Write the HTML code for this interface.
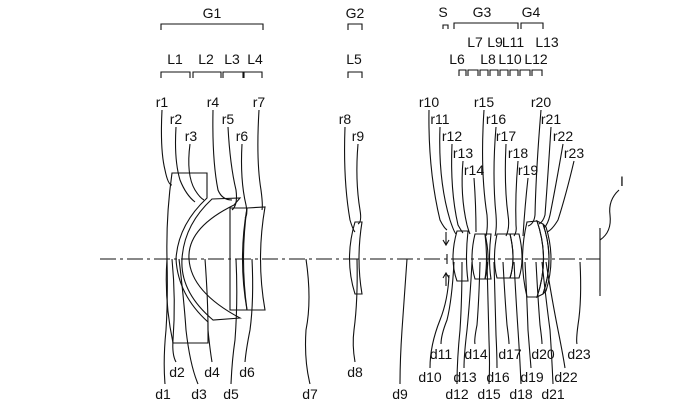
<!DOCTYPE html>
<html><head><style>
html,body{margin:0;padding:0;background:#fff;}
svg{display:block}
text{font-family:"Liberation Sans Narrow","Liberation Sans",sans-serif;font-size:14px;fill:#111;text-anchor:middle}
</style></head><body>
<svg width="700" height="404" viewBox="0 0 700 404" xmlns="http://www.w3.org/2000/svg">
<g fill="none" stroke="#111" stroke-width="1.1">
<!-- axis -->
<line x1="100" y1="259" x2="600" y2="259" stroke-dasharray="16,4,3,4"/>
<!-- image plane -->
<line x1="600" y1="228" x2="600" y2="296"/>
<path d="M600,240 Q612,232 610,215 Q608,200 619,190"/>
<!-- brackets top -->
<path d="M161,30 V24 H263 V30"/>
<path d="M348,30 V24 H362 V30"/>
<path d="M161,78 V72 H190 V78 M193,78 V72 H221 V78 M223,78 V72 H243 V78 M244,78 V72 H262 V78"/>
<path d="M348,78 V72 H362 V78"/>
<path d="M443,29 V25 H448 V29 M454,29 V23 H518 V29 M521,29 V23 H543 V29"/>
<path d="M459,76 V70 H466 V76 M468,76 V70 H478 V76 M480,76 V70 H488 V76 M490,76 V70 H498 V76 M500,76 V70 H508 V76 M510,76 V70 H518 V76 M520,76 V70 H530 V76 M532,76 V70 H542 V76"/>
<!-- G1 lenses -->
<path d="M172,173 L207,173 L207,198 Q178,225 176,259 Q178,295 208,322 L208,343 L173,343 Q164,300 167,259 Q166,215 172,173 Z"/>
<path d="M212,199 L240,198 L234,205 Q187,228 189,259 Q191,292 240,318 L213,320 Q180,292 182,259 Q184,225 212,199 Z"/>
<path d="M230,208 L247,208 Q238,259 247,310 L230,310 Z"/>
<path d="M247,208 L265,207 Q256,259 265,310 L247,310 Q240,259 247,208 Z"/>
<!-- L5 -->
<path d="M355,222 L362,222 Q356,259 362,294 L355,294 Q344,259 355,222 Z"/>
<!-- G3 -->
<path d="M457,231 L468,231 Q465,259 468,281 L457,281 Q449,259 457,231 Z"/>
<path d="M475,234 L485,234 Q491,259 485,279 L475,279 Q469,259 475,234 Z"/>
<path d="M485,234 L491,234 Q488,259 491,279 L485,279 Q488,259 485,234 Z"/>
<path d="M497,234 L510,234 Q516,259 510,278 L497,278 Q492,259 497,234 Z"/>
<path d="M510,234 L519,234 Q525,259 519,278 L510,278 Q516,259 510,234 Z"/>
<!-- G4 -->
<path d="M527,222 L537,221 Q550,259 537,297 L527,297 Q518,259 527,222 Z"/>
<path d="M537,221 L543,224 Q555,259 543,294 L537,297 Q550,259 537,221 Z"/>
<path d="M543,224 L546,227 Q556,259 546,291 L543,294 Q555,259 543,224 Z"/>
<!-- stop arrows -->
<path d="M446,232 L446,244 M443,240 L446,245 L449,240"/>
<path d="M446,286 L446,274 M443,278 L446,273 L449,278"/>
<line x1="447" y1="254" x2="447" y2="264"/>
<!-- r leaders G1 -->
<path d="M162,110 Q160,150 165,170 Q168,185 172,185"/>
<path d="M176,127 Q174,160 180,180 Q186,195 195,202"/>
<path d="M190,144 Q186,175 195,190 Q200,198 204,200"/>
<path d="M213,110 Q212,160 218,190 Q222,200 232,200"/>
<path d="M228,127 Q230,165 236,190 Q238,205 232,210"/>
<path d="M242,144 Q240,180 246,205 Q248,215 245,218"/>
<path d="M259,110 Q256,160 261,190 Q263,205 262,210"/>
<path d="M345,127 Q343,180 350,220 Q353,230 355,232"/>
<path d="M358,144 Q355,180 360,210 Q362,222 358,224"/>
<!-- r leaders G3/G4 -->
<path d="M429,110 Q428,170 440,220 Q444,228 447,230"/>
<path d="M440,127 Q438,180 450,220 Q454,232 456,234"/>
<path d="M452,144 Q450,190 458,225 Q462,232 463,233"/>
<path d="M463,161 Q460,195 467,225 Q469,232 470,234"/>
<path d="M474,178 Q476,205 476,232"/>
<path d="M484,110 Q480,170 487,215 Q488,228 486,236"/>
<path d="M496,127 Q492,175 496,215 Q497,228 495,236"/>
<path d="M506,144 Q504,185 508,215 Q510,228 506,236"/>
<path d="M518,161 Q515,195 516,225 Q517,232 514,236"/>
<path d="M528,178 Q525,205 523,236"/>
<path d="M541,110 Q536,170 535,215 Q534,224 528,226"/>
<path d="M551,127 Q548,175 545,215 Q543,222 539,224"/>
<path d="M563,144 Q556,185 550,215 Q548,224 544,228"/>
<path d="M574,161 Q566,195 558,220 Q552,230 547,232"/>
<!-- d leaders G1 -->
<path d="M167,259 Q168,300 166,330 Q163,360 165,384"/>
<path d="M172,259 Q176,300 173,340 Q172,355 176,362"/>
<path d="M179,259 Q184,300 186,330 Q190,365 198,384"/>
<path d="M205,259 Q208,300 208,330 Q210,350 212,362"/>
<path d="M236,259 Q238,300 235,340 Q232,360 231,384"/>
<path d="M252,259 Q254,300 250,330 Q246,350 245,362"/>
<path d="M306,259 Q312,300 306,330 Q304,360 310,384"/>
<path d="M357,259 Q358,300 354,330 Q352,345 355,362"/>
<!-- d leaders G3/G4 -->
<path d="M407,259 Q404,300 402,330 Q400,360 400,384"/>
<path d="M449,275 Q448,300 440,320 Q430,345 430,368"/>
<path d="M454,262 Q452,300 447,320 Q441,335 441,344"/>
<path d="M462,262 Q462,300 460,330 Q457,360 457,384"/>
<path d="M472,262 Q470,300 467,330 Q464,355 464,368"/>
<path d="M480,262 Q479,300 477,325 Q474,340 475,344"/>
<path d="M487,262 Q488,300 489,340 Q490,365 489,384"/>
<path d="M494,262 Q495,300 496,335 Q497,355 497,368"/>
<path d="M503,262 Q505,300 507,325 Q509,340 509,344"/>
<path d="M514,262 Q516,300 518,330 Q520,360 521,384"/>
<path d="M525,262 Q527,300 528,330 Q530,355 531,368"/>
<path d="M536,262 Q538,300 540,325 Q542,340 542,344"/>
<path d="M542,262 Q546,300 550,330 Q552,360 553,384"/>
<path d="M546,262 Q552,300 558,330 Q563,355 565,368"/>
<path d="M580,262 Q582,300 578,325 Q576,340 577,344"/>
</g>
<!-- labels -->
<text x="212" y="18">G1</text><text x="355" y="18">G2</text>
<text x="443" y="17">S</text><text x="482" y="17">G3</text><text x="531" y="17">G4</text>
<text x="175" y="64">L1</text><text x="206" y="64">L2</text><text x="232" y="64">L3</text><text x="255" y="64">L4</text>
<text x="354" y="64">L5</text>
<text x="475" y="47">L7</text><text x="495" y="47">L9</text><text x="513" y="47">L11</text><text x="547" y="47">L13</text>
<text x="457" y="64">L6</text><text x="488" y="64">L8</text><text x="510" y="64">L10</text><text x="536" y="64">L12</text>
<text x="162" y="107">r1</text><text x="176" y="124">r2</text><text x="191" y="141">r3</text>
<text x="213" y="107">r4</text><text x="228" y="124">r5</text><text x="242" y="141">r6</text><text x="259" y="107">r7</text>
<text x="345" y="124">r8</text><text x="358" y="141">r9</text>
<text x="429" y="107">r10</text><text x="440" y="124">r11</text><text x="452" y="141">r12</text><text x="463" y="158">r13</text><text x="474" y="175">r14</text>
<text x="484" y="107">r15</text><text x="496" y="124">r16</text><text x="506" y="141">r17</text><text x="518" y="158">r18</text><text x="528" y="175">r19</text>
<text x="541" y="107">r20</text><text x="551" y="124">r21</text><text x="563" y="141">r22</text><text x="574" y="158">r23</text>
<text x="622" y="186">I</text>
<text x="163" y="399">d1</text><text x="177" y="377">d2</text><text x="199" y="399">d3</text><text x="212" y="377">d4</text>
<text x="231" y="399">d5</text><text x="247" y="377">d6</text><text x="310" y="399">d7</text><text x="355" y="377">d8</text>
<text x="400" y="399">d9</text><text x="430" y="382">d10</text><text x="441" y="359">d11</text><text x="457" y="399">d12</text>
<text x="465" y="382">d13</text><text x="476" y="359">d14</text><text x="489" y="399">d15</text><text x="498" y="382">d16</text>
<text x="510" y="359">d17</text><text x="521" y="399">d18</text><text x="532" y="382">d19</text><text x="543" y="359">d20</text>
<text x="553" y="399">d21</text><text x="566" y="382">d22</text><text x="579" y="359">d23</text>
</svg>
</body></html>
